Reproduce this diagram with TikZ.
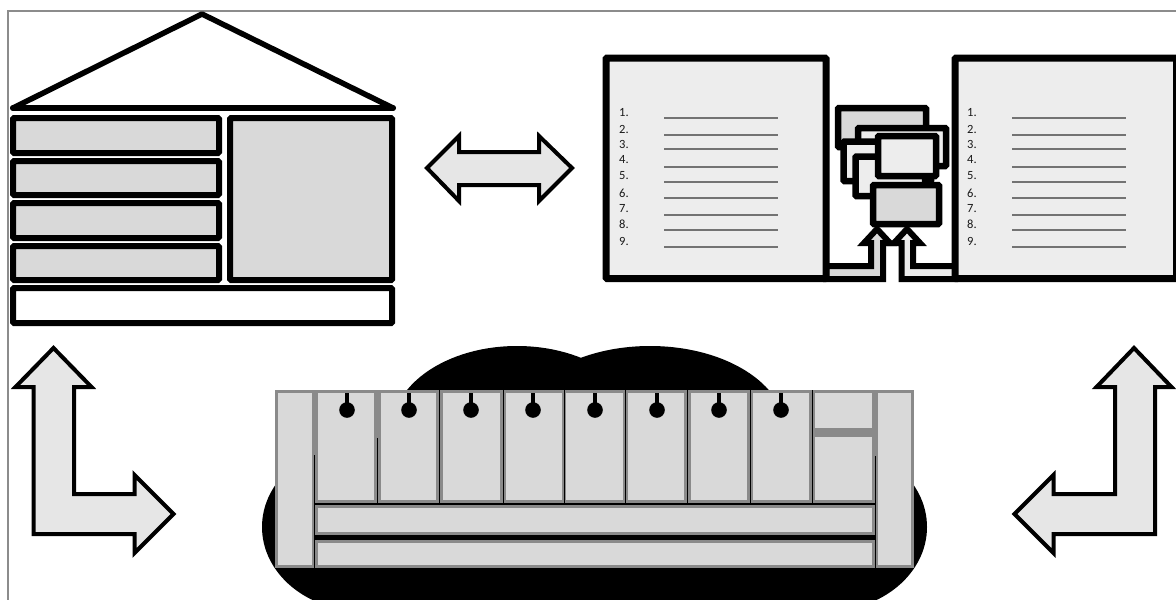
\documentclass[tikz,border=0pt]{standalone}
\usepackage{fontspec}
\setmainfont{Carlito}
\definecolor{fillgray}{HTML}{D9D9D9}
\definecolor{fillpale}{HTML}{EDEDED}
\definecolor{fillarrow}{HTML}{E6E6E6}
\definecolor{rimgray}{HTML}{8A8A8A}
\definecolor{framegray}{HTML}{8C8C8C}
\tikzset{
  framerule/.style={draw=framegray,line width=2},
  heavybox/.style={draw=black,line width=6,rounded corners=1,fill=fillgray},
  whitebox/.style={heavybox,fill=white},
  docbox/.style={draw=black,line width=7,rounded corners=1,fill=fillpale},
  cardgray/.style={draw=black,line width=6.5,rounded corners=1,fill=fillgray},
  cardpale/.style={cardgray,fill=fillpale},
  roofline/.style={draw=black,line width=5.5,line cap=round,line join=round},
  bigarrow/.style={draw=black,line width=4,miter limit=10,fill=fillarrow},
  smallarrow/.style={draw=black,line width=6,miter limit=10,fill=fillgray},
  smallarrowpale/.style={smallarrow,fill=fillpale},
  sofapart/.style={draw=rimgray,line width=3,fill=fillgray},
  seam/.style={draw=black,line width=1},
  rimseam/.style={draw=rimgray,line width=2},
  rulerline/.style={draw=black!55,line width=1.3},
  numlabel/.style={inner sep=0pt,anchor=west,font=\fontsize{12.5}{12.5}\selectfont,text=black!90},
  pinstem/.style={draw=black,line width=4.5},
  pinhead/.style={fill=black}
}
\begin{document}
\begin{tikzpicture}[x=1pt,y=-1pt]
\useasboundingbox (0,0) rectangle (1176,600);
\clip (0,0) rectangle (1176,600);
\fill[white] (0,0) rectangle (1176,600);
% frame
\draw[framerule] (7.5,601) -- (7.5,10.5) -- (1177,10.5);
% house
\draw[roofline,fill=white] (13,108) -- (202,14) -- (393,108) -- cycle;
\draw[draw=black,line width=6,line cap=round] (13,108) -- (393,108);
\draw[heavybox] (13,118) rectangle (219,153);
\draw[heavybox] (13,161) rectangle (219,195);
\draw[heavybox] (13,203) rectangle (219,238);
\draw[heavybox] (13,246) rectangle (219,280);
\draw[heavybox] (230,118) rectangle (392,280);
\draw[whitebox] (13,288) rectangle (392,323);
% double arrow
\draw[bigarrow] (427,168) -- (459,136) -- (459,152) -- (539,152) -- (539,136) -- (572,168) -- (539,201) -- (539,185) -- (459,185) -- (459,201) -- cycle;
% small arrows into the stack
\draw[smallarrow] (826,266) -- (871,266) -- (871,243) -- (864,243) -- (877,229) -- (890,243) -- (883,243) -- (883,279) -- (826,279) -- cycle;
\draw[smallarrowpale] (955,266) -- (913,266) -- (913,243) -- (920,243) -- (907,229) -- (894,243) -- (901.5,243) -- (901.5,279) -- (955,279) -- cycle;
% documents
\draw[docbox] (606,58) rectangle (826,278.5);
\draw[docbox] (955,58) rectangle (1176.5,278.5);
% card stack
\draw[cardgray] (838,108) rectangle (926,147);
\draw[cardpale] (858,128) rectangle (946,166);
\draw[cardpale] (843.5,141.5) rectangle (931,181);
\draw[cardpale] (855.5,156.5) rectangle (925,196);
\draw[cardpale] (878,136) rectangle (936,176);
\draw[cardgray] (873,185) rectangle (939,224);
% list texts
\foreach \n/\ty/\ly in {1/113/118,2/129/135,3/144/149,4/160/167,5/176/182,6/193/198,7/209/215,8/224/230,9/241/247}{
  \node[numlabel] (la\n) at (619,\ty) {\n.};
  \node[numlabel] (lb\n) at (967,\ty) {\n.};
  \draw[rulerline] (664,\ly) -- (778,\ly);
  \draw[rulerline] (1012,\ly) -- (1126,\ly);
}
% L arrows
\draw[bigarrow] (53.5,348) -- (91.5,387) -- (74,387) -- (74,494) -- (134.5,494) -- (134.5,475) -- (173.5,514) -- (134.5,553) -- (134.5,534) -- (33.5,534) -- (33.5,387) -- (15.5,387) -- cycle;
\draw[bigarrow] (1134,348) -- (1171.5,387) -- (1155,387) -- (1155,534) -- (1053.5,534) -- (1053.5,553) -- (1014.5,514) -- (1053.5,475) -- (1053.5,494) -- (1115,494) -- (1115,387) -- (1096.5,387) -- cycle;
% cloud
\fill[black] (517,430) ellipse [x radius=125,y radius=84];
\fill[black] (650,430) ellipse [x radius=135,y radius=84];
\fill[black] (362,527) ellipse [x radius=100,y radius=84];
\fill[black] (827,527) ellipse [x radius=100,y radius=84];
\fill[black] (362,430) rectangle (827,601);
% sofa
\draw[sofapart] (276.5,391.5) rectangle (313.5,566.5);
\draw[sofapart] (876.5,391.5) rectangle (912.5,566.5);
\foreach \xa/\xb in {316.5/375.5,379.5/437.5,441.5/501.5,504.5/563.5,564.5/624.5,626.5/685.5,689.5/748.5,751.5/810.5,813.5/873.5}{
  \draw[sofapart] (\xa,391.5) rectangle (\xb,501.5);
}
\draw[draw=rimgray,line width=9] (812,432.5) -- (875,432.5);
\draw[sofapart] (316.5,506.5) rectangle (873.5,533.5);
\draw[sofapart] (316.5,541.5) rectangle (873.5,566.5);
% seams
\draw[rimseam] (377.5,390) -- (377.5,438);
\draw[seam] (314.5,455) -- (314.5,568);
\draw[seam] (377.5,438) -- (377.5,503);
\draw[seam] (439.5,390) -- (439.5,503);
\draw[seam] (503,390) -- (503,503);
\draw[seam] (564,390) -- (564,503);
\draw[seam] (625.5,390) -- (625.5,503);
\draw[seam] (687.5,390) -- (687.5,503);
\draw[seam] (750,390) -- (750,503);
\draw[seam] (812,390) -- (812,503);
\draw[seam] (875,456) -- (875,568);
% pins
\foreach \px in {347,409,471,533,595,657,719,781}{
  \draw[pinstem] (\px,393) -- (\px,410);
  \fill[pinhead] (\px,410) circle (7.8);
}
\end{tikzpicture}
\end{document}
